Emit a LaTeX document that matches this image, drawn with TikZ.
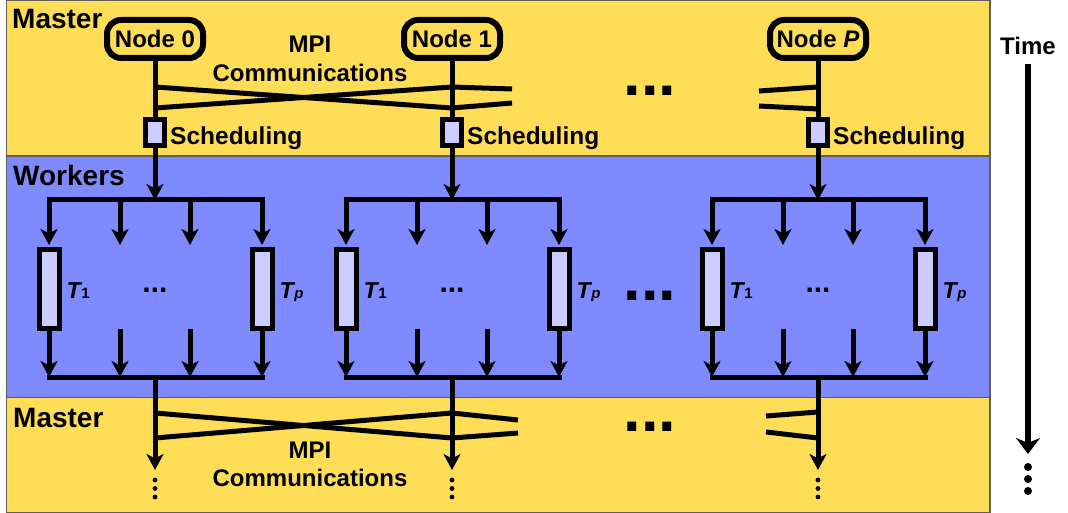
\documentclass[tikz,border=0pt]{standalone}
\usepackage{fontspec}
\setmainfont{Liberation Sans}
\usetikzlibrary{arrows.meta,calc}
\definecolor{masteryellow}{RGB}{255,221,87}
\definecolor{workerblue}{RGB}{128,138,255}
\definecolor{lav}{RGB}{204,204,255}
\definecolor{bandedge}{RGB}{95,95,85}
\newcommand\fsz[1]{\fontsize{#1}{#1}\selectfont\bfseries}
\newcommand\mpifont{\fontsize{24}{28.5}\selectfont\bfseries}
\begin{document}
\begin{tikzpicture}[x=1pt,y=-1pt,
  band/.style={draw=bandedge,line width=1.3pt},
  wire/.style={line width=5pt},
  tipped/.style={wire,-{Stealth[length=16pt,width=17pt,inset=4.5pt]}},
  commline/.style={line width=5pt},
  nodebox/.style={draw,line width=6pt,rounded corners=14pt,fill=masteryellow,
    minimum width=96pt,minimum height=38pt,inner sep=0pt,font=\fsz{24}},
  schedbox/.style={draw,line width=5pt,fill=lav,minimum width=19pt,
    minimum height=26pt,inner sep=0pt},
  taskbox/.style={draw,line width=5pt,fill=lav,minimum width=20pt,
    minimum height=79pt,inner sep=0pt},
  seclabel/.style={anchor=west,inner sep=0pt,font=\fsz{28}},
  txt/.style={inner sep=0pt,font=\fsz{24}},
  tlabel/.style={anchor=base west,inner sep=0pt,font=\fsz{23}},
  bigdots/.style={inner sep=0pt,font=\fsz{63}},
]
\useasboundingbox (0,0) rectangle (1068,513);

% phase bands
\draw[band,fill=masteryellow] (6.5,0.7) rectangle (990,156);
\draw[band,fill=workerblue]   (6.5,156) rectangle (990,397.5);
\draw[band,fill=masteryellow] (6.5,397.5) rectangle (990,512.2);

\node[seclabel] (mastertop) at (12,19) {Master};
\node[seclabel] (workers)   at (13,175) {Workers};
\node[seclabel] (masterbot) at (13,418) {Master};

% one column per compute node
\foreach \x/\id/\lbl in {155/0/0,452/1/1,818/P/{\itshape P}} {
  \node[nodebox] (n\id) at (\x,39) {Node \lbl};
  \node[schedbox] (s\id) at (\x,133) {};
  \node[txt,anchor=base west,font=\fsz{24.5}] (sl\id) at (\x+15,145) {Scheduling};
  \coordinate (fork\id) at (\x,200);
  \coordinate (join\id) at (\x,377);
  \coordinate (next\id) at (\x,470);
  \coordinate (fa\id) at (\x-35,200);
  \coordinate (fb\id) at (\x+35,200);
  \coordinate (ga\id) at (\x-35,245);
  \coordinate (gb\id) at (\x+35,245);
  \coordinate (ha\id) at (\x-35,329);
  \coordinate (hb\id) at (\x+35,329);
  \coordinate (ja\id) at (\x-35,377);
  \coordinate (jb\id) at (\x+35,377);
  \node[taskbox] (tf\id) at (\x-106,289) {};
  \node[taskbox] (tl\id) at (\x+107,289) {};
  \node[tlabel] (tfl\id) at ($(tf\id.east)+(5,9)$) {\itshape T\kern0.5pt{\fsz{15}\upshape 1}};
  \node[tlabel] (tll\id) at ($(tl\id.east)+(5,9)$) {\itshape T\kern0.5pt{\fsz{15}\itshape p}};
  \node[txt,font=\fsz{30}] (dots\id) at (\x,290) {...};

  \draw[wire] (n\id) -- (s\id);
  \draw[tipped] (s\id) -- (fork\id);
  \draw[wire,line cap=rect] (tf\id |- fork\id) -- (tl\id |- fork\id);
  \draw[tipped] (tf\id |- fork\id) -- ($(tf\id.north)+(0,-2)$);
  \draw[tipped] (tl\id |- fork\id) -- ($(tl\id.north)+(0,-2)$);
  \draw[tipped] (fa\id) -- (ga\id);
  \draw[tipped] (fb\id) -- (gb\id);
  \draw[tipped] (tf\id) -- (tf\id |- join\id);
  \draw[tipped] (tl\id) -- (tl\id |- join\id);
  \draw[tipped] (ha\id) -- (ja\id);
  \draw[tipped] (hb\id) -- (jb\id);
  \draw[wire,line cap=rect] (tf\id |- join\id) -- (tl\id |- join\id);
  \draw[tipped] (join\id) -- (next\id);
  \foreach \yy in {480,488.5,497} \fill (\x,\yy) circle (2.4);
}

% MPI exchanges before the work phase
\coordinate (au0) at (155,87);  \coordinate (al0) at (155,108);
\coordinate (au1) at (452,87);  \coordinate (al1) at (452,108);
\coordinate (auP) at (818,87);  \coordinate (alP) at (818,109);
\coordinate (ar1u) at (512,89); \coordinate (ar1l) at (512,103);
\coordinate (apu) at (759,91);  \coordinate (apl) at (759,106);
\draw[commline] (au0) -- (al1);
\draw[commline] (al0) -- (au1);
\draw[commline] (au1) -- (ar1u);
\draw[commline] (al1) -- (ar1l);
\draw[commline] (auP) -- (apu);
\draw[commline] (alP) -- (apl);

% MPI exchanges after the work phase
\coordinate (bu0) at (155,413); \coordinate (bl0) at (155,438);
\coordinate (bu1) at (452,413); \coordinate (bl1) at (452,438);
\coordinate (buP) at (818,412); \coordinate (blP) at (818,438);
\coordinate (br1u) at (518,420); \coordinate (br1l) at (518,433);
\coordinate (bpu) at (766,416);  \coordinate (bpl) at (766,432);
\draw[commline] (bu0) -- (bl1);
\draw[commline] (bl0) -- (bu1);
\draw[commline] (bu1) -- (br1u);
\draw[commline] (bl1) -- (br1l);
\draw[commline] (buP) -- (bpu);
\draw[commline] (blP) -- (bpl);

\node[txt,align=center,font=\mpifont] (mpitop) at (310,59) {MPI\\Communications};
\node[txt,align=center,font=\mpifont] (mpibot) at (310,464.5) {MPI\\Communications};

% elided nodes
\node[bigdots] (gaptop) at (650,91) {...};
\node[bigdots] (gapmid) at (650,296) {...};
\node[bigdots] (gapbot) at (650,427) {...};

% time axis
\node[txt] (time) at (1028,46) {Time};
\coordinate (tend) at (1028,454);
\draw[line width=6pt,shorten <=9pt,-{Stealth[length=16pt,width=24pt,inset=5pt]}] (time) -- (tend);
\foreach \yy in {467,479,491} \fill (1028,\yy) circle (4);
\end{tikzpicture}
\end{document}
